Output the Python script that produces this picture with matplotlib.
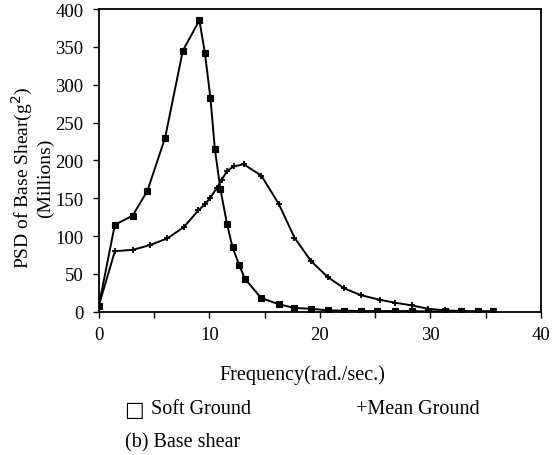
import matplotlib
matplotlib.use("Agg")
import matplotlib.pyplot as plt

# Soft ground (square markers)
soft_freq = [0, 1.45, 3.06, 4.4, 6.0, 7.6, 9.1, 9.6, 10.1, 10.5, 11.0, 11.6, 12.1, 12.7,
             13.2, 14.7, 16.3, 17.7, 19.2, 20.7, 22.2, 23.7, 25.2, 26.8, 28.3, 29.8,
             31.3, 32.8, 34.3, 35.7]
soft_psd = [8, 115, 127, 160, 230, 345, 385, 342, 282, 215, 162, 116, 85, 62,
            44, 18, 10, 5, 4, 2, 1.5, 1, 1, 1, 1, 0.5, 0.5, 0.5, 0.5, 0.5]

# Mean ground (plus markers)
mean_freq = [0, 1.45, 3.1, 4.6, 6.2, 7.7, 9.0, 9.6, 10.1, 10.7, 11.1, 11.6, 12.2, 13.1,
             14.7, 16.3, 17.7, 19.2, 20.7, 22.2, 23.7, 25.4, 26.8, 28.3, 29.8, 31.3,
             32.8, 34.3, 35.7]
mean_psd = [8, 80, 82, 88, 97, 112, 134, 142, 151, 164, 174, 186, 192, 195,
            180, 142, 98, 67, 46, 31, 22, 16, 12, 8.5, 4, 2, 1, 0.5, 0.5]

x_ticks = [0, 10, 20, 30, 40]
y_ticks = [0, 50, 100, 150, 200, 250, 300, 350, 400]

plt.rcParams['font.family'] = ['Liberation Serif', 'DejaVu Sans']
plt.rcParams['font.size'] = 13.5

fig = plt.figure(figsize=(5.52, 4.56), dpi=100)
ax = fig.add_axes([0.179, 0.314, 0.801, 0.664])

ax.plot(soft_freq, soft_psd, color='black', lw=1.4, marker='s', ms=4.5,
        mfc='black', mec='black', mew=0.8)
ax.plot(mean_freq, mean_psd, color='black', lw=1.4, marker='+', ms=5, mew=1.3)

ax.set_xlim(0, 40)
ax.set_ylim(0, 400)
ax.set_xticks(x_ticks)
ax.set_xticks(range(0, 41, 5), minor=True)
ax.set_yticks(y_ticks)
ax.tick_params(axis='x', direction='out', length=4, width=1, pad=6)
ax.tick_params(axis='y', direction='out', length=4, width=1, pad=7)
ax.tick_params(which='minor', direction='out', length=4, width=1)
for s in ax.spines.values():
    s.set_linewidth(1.3)

fig.text(0.058, 0.61, 'PSD of Base Shear(g$^2$)\n(Millions)', rotation=90,
         ha='center', va='center', multialignment='center', fontsize=14,
         linespacing=1.1)
fig.text(0.547, 0.178, 'Frequency(rad./sec.)', ha='center', va='center', fontsize=14.5)
fig.text(0.243, 0.101, '\u25a1', ha='center', va='center', fontsize=15,
         family=['DejaVu Sans'])
fig.text(0.273, 0.101, 'Soft Ground', ha='left', va='center', fontsize=14.5)
fig.text(0.645, 0.101, '+Mean Ground', ha='left', va='center', fontsize=14.5)
fig.text(0.226, 0.028, '(b) Base shear', ha='left', va='center', fontsize=14.5)

fig.savefig('out.png', dpi=100)
